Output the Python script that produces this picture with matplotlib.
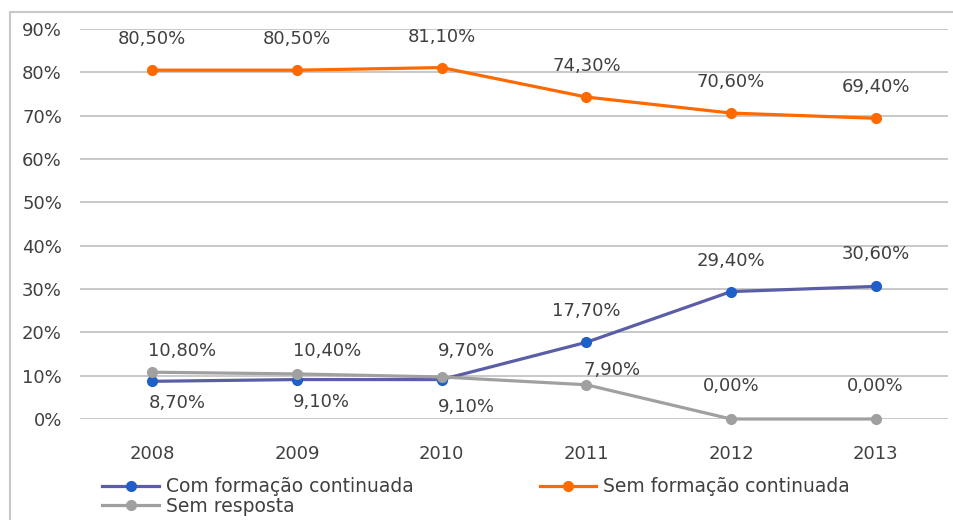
import matplotlib.pyplot as plt
from matplotlib.patches import Rectangle
from matplotlib.ticker import FuncFormatter

anos = ['2008', '2009', '2010', '2011', '2012', '2013']
com_formacao = [8.7, 9.1, 9.1, 17.7, 29.4, 30.6]
sem_formacao = [80.5, 80.5, 81.1, 74.3, 70.6, 69.4]
sem_resposta = [10.8, 10.4, 9.7, 7.9, 0.0, 0.0]

# deslocamento dos rótulos em pixels (dx, dy, alinhamento)
off_com = [(-4, -22, 'left'), (-4, -22, 'left'), (-4, -27, 'left'),
           (0, 31, 'center'), (0, 31, 'center'), (0, 32, 'center')]
off_sem = [(0, 31, 'center')] * 6
off_resp = [(-4, 21, 'left'), (-4, 23, 'left'), (-4, 26, 'left'),
            (-3, 15, 'left'), (0, 33, 'center'), (0, 33, 'center')]

plt.rcParams['font.family'] = ['DejaVu Sans']
cor_texto = '#404040'

fig = plt.figure(figsize=(9.54, 5.2), dpi=100)
ax = fig.add_axes([80 / 954, 1 - 419 / 520, 868 / 954, 390 / 520])

x = list(range(len(anos)))
ax.plot(x, com_formacao, '-o', color='#5B5EA6', lw=2.3, ms=7,
        mfc='#1F5FC8', mec='#1F5FC8', label='Com formação continuada',
        zorder=3, clip_on=False)
ax.plot(x, sem_resposta, '-o', color='#A0A0A0', lw=2.3, ms=7,
        label='Sem resposta', zorder=3, clip_on=False)
ax.plot(x, sem_formacao, '-o', color='#FF6A00', lw=2.3, ms=7,
        label='Sem formação continuada', zorder=3, clip_on=False)


def rotulos(valores, offsets):
    for i, v in enumerate(valores):
        dx, dy, ha = offsets[i]
        txt = ('%.2f%%' % v).replace('.', ',')
        ax.annotate(txt, (i, v), xytext=(dx, dy), textcoords='offset pixels',
                    ha=ha, va='center', fontsize=13, color=cor_texto)


rotulos(sem_formacao, off_sem)
rotulos(com_formacao, off_com)
rotulos(sem_resposta, off_resp)

ax.set_xlim(-0.5, len(anos) - 0.5)
ax.set_ylim(0, 90)
ax.set_yticks(range(0, 91, 10))
ax.yaxis.set_major_formatter(FuncFormatter(lambda v, p: '%d%%' % v))
ax.set_xticks(x)
ax.set_xticklabels(anos)
ax.grid(axis='y', color='#C4C4C4', lw=1.3)
ax.set_axisbelow(True)
for s in ax.spines.values():
    s.set_visible(False)
ax.tick_params(axis='both', length=0, labelsize=13, colors=cor_texto)
ax.tick_params(axis='x', pad=19)
ax.tick_params(axis='y', pad=13)

leg = fig.legend(loc='upper left', bbox_to_anchor=(95 / 954, 1 - 470 / 520),
                 ncol=2, frameon=False, fontsize=13.5, handlelength=3,
                 columnspacing=6.7, labelspacing=0.0, handletextpad=0.4,
                 borderaxespad=0)
for t in leg.get_texts():
    t.set_color(cor_texto)

fig.patches.append(Rectangle((10 / 954, -0.05), 1.1, 1 - 12 / 520 + 0.05,
                             transform=fig.transFigure, fill=False,
                             edgecolor='#C8C8C8', lw=1.5))

fig.savefig('out.png', dpi=100)
